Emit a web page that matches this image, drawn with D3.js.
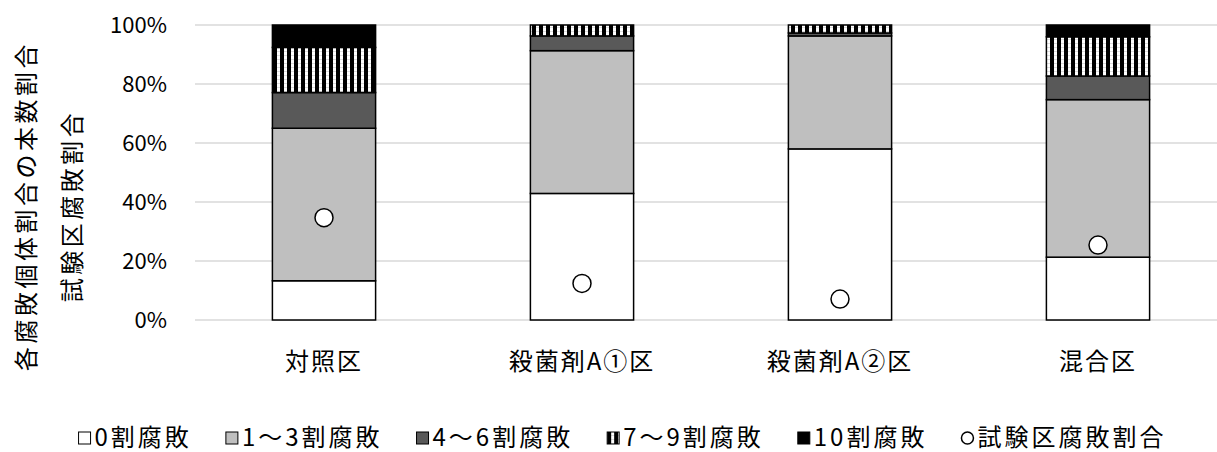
<!DOCTYPE html>
<html>
<head>
<meta charset="utf-8">
<script src="https://cdn.jsdelivr.net/npm/d3@7"></script>
<style>
  html, body { margin: 0; padding: 0; background: #fff; }
  svg { display: block; font-family: "Noto Sans CJK JP", "Noto Sans", sans-serif; }
</style>
</head>
<body>
<div id="chart"></div>
<script>
// categories and values (percent of trees per rot class)
const categories = ["対照区", "殺菌剤A①区", "殺菌剤A②区", "混合区"];
const seriesNames = ["0割腐敗", "1～3割腐敗", "4～6割腐敗", "7～9割腐敗", "10割腐敗"];
const rot0 = [13.3, 42.9, 58.0, 21.3];
const rot1to3 = [51.7, 48.4, 38.3, 53.4];
const rot4to6 = [12.1, 5.0, 1.0, 8.0];
const rot7to9 = [15.3, 3.7, 2.7, 13.3];
const rot10 = [7.6, 0, 0, 4.0];
const plotRotName = "試験区腐敗割合";
const plotRot = [34.7, 12.4, 7.1, 25.4];
const yTicks = [0, 20, 40, 60, 80, 100];

const width = 1217, height = 452;
const plotLeft = 195, plotRight = 1227, plotTop = 25, plotBottom = 320;

const svg = d3.select("#chart").append("svg")
    .attr("width", width)
    .attr("height", height);

// stripe pattern for 7-9
const defs = svg.append("defs");
const pat = defs.append("pattern")
    .attr("id", "stripes")
    .attr("patternUnits", "userSpaceOnUse")
    .attr("width", 7).attr("height", 4);
pat.append("rect").attr("width", 7).attr("height", 4).attr("fill", "#fff");
pat.append("rect").attr("width", 4).attr("height", 4).attr("fill", "#000");
pat.append("rect").attr("x", 4).attr("y", 3).attr("width", 3).attr("height", 1).attr("fill", "#ddd");

const fills = ["#ffffff", "#bfbfbf", "#595959", "url(#stripes)", "#000000"];

const x = d3.scaleBand()
    .domain(categories)
    .range([plotLeft, plotRight])
    .paddingInner(0.6)
    .paddingOuter(0.3);

const y = d3.scaleLinear()
    .domain([0, 100])
    .range([plotBottom, plotTop]);

// gridlines
svg.append("g")
    .selectAll("line")
    .data(yTicks)
    .join("line")
    .attr("x1", plotLeft).attr("x2", plotRight)
    .attr("y1", d => y(d)).attr("y2", d => y(d))
    .attr("stroke", "#d9d9d9")
    .attr("stroke-width", 1.5);

// y tick labels
svg.append("g")
    .selectAll("text")
    .data(yTicks)
    .join("text")
    .attr("x", 167)
    .attr("y", d => y(d))
    .attr("dy", "0.35em")
    .attr("text-anchor", "end")
    .attr("font-size", 22)
    .attr("fill", "#000")
    .text(d => d + "%");

// stacked bars
const rows = categories.map((c, i) => ({
    cat: c, s0: rot0[i], s1: rot1to3[i], s2: rot4to6[i], s3: rot7to9[i], s4: rot10[i]
}));
const keys = ["s0", "s1", "s2", "s3", "s4"];
const stacked = d3.stack().keys(keys)(rows);

svg.append("g")
    .selectAll("g")
    .data(stacked)
    .join("g")
    .attr("fill", (d, i) => fills[i])
    .selectAll("rect")
    .data(d => d.filter(p => p[1] - p[0] > 0))
    .join("rect")
    .attr("x", d => x(d.data.cat))
    .attr("width", x.bandwidth())
    .attr("y", d => y(d[1]))
    .attr("height", d => y(d[0]) - y(d[1]))
    .attr("stroke", "#000")
    .attr("stroke-width", 1.5);

// test plot rot markers
svg.append("g")
    .selectAll("circle")
    .data(plotRot)
    .join("circle")
    .attr("cx", (d, i) => x(categories[i]) + x.bandwidth() / 2)
    .attr("cy", d => y(d))
    .attr("r", 9)
    .attr("fill", "#fff")
    .attr("stroke", "#000")
    .attr("stroke-width", 1.5);

// category labels
svg.append("g")
    .selectAll("text")
    .data(categories)
    .join("text")
    .attr("x", d => x(d) + x.bandwidth() / 2)
    .attr("y", 370)
    .attr("text-anchor", "middle")
    .attr("font-size", 24)
    .attr("letter-spacing", 2)
    .text(d => d);

// y axis title (two lines)
const titleLines = ["各腐敗個体割合の本数割合", "試験区腐敗割合"];
const titleX = [27, 73];
titleLines.forEach((t, i) => {
    svg.append("text")
        .attr("transform", `translate(${titleX[i]},206) rotate(-90)`)
        .attr("text-anchor", "middle")
        .attr("dy", "0.35em")
        .attr("font-size", 24)
        .attr("letter-spacing", 3.5)
        .text(t);
});

// legend
const legendNames = seriesNames.concat([plotRotName]);
const legend = svg.append("g");
let lx = 0;
const ly = 438;
const gap = 34;
legendNames.forEach((name, i) => {
    const g = legend.append("g").attr("transform", `translate(${lx},0)`);
    if (i < 5) {
        g.append("rect")
            .attr("x", 0).attr("y", ly - 6)
            .attr("width", 12).attr("height", 12)
            .attr("fill", fills[i])
            .attr("stroke", "#000")
            .attr("stroke-width", 1);
    } else {
        g.append("circle")
            .attr("cx", 6).attr("cy", ly)
            .attr("r", 6)
            .attr("fill", "#fff")
            .attr("stroke", "#000")
            .attr("stroke-width", 1.5);
    }
    const t = g.append("text")
        .attr("x", 16)
        .attr("y", ly)
        .attr("dy", "0.35em")
        .attr("font-size", 24)
        .attr("letter-spacing", 3)
        .text(name);
    lx += 16 + t.node().getComputedTextLength() + gap;
});
const legendWidth = lx - gap;
legend.attr("transform", `translate(${(68 + 1177) / 2 - legendWidth / 2},0)`);
</script>
</body>
</html>
